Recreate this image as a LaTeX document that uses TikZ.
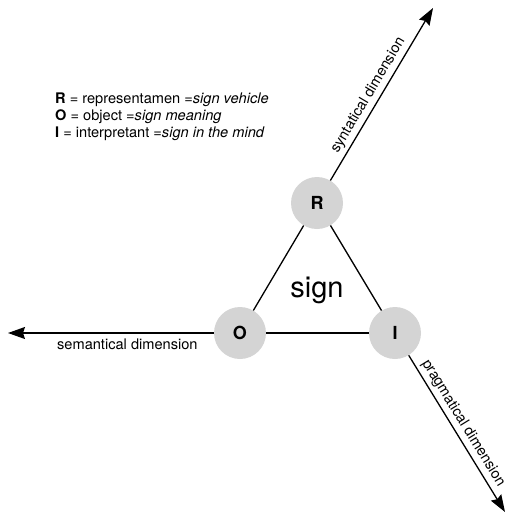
\documentclass[tikz,border=0pt]{standalone}
\usepackage{fontspec}
\setmainfont{TeX Gyre Heros}
\usetikzlibrary{arrows.meta}
\begin{document}
\begin{tikzpicture}[x=1pt,y=-1pt,
  corner/.style={circle,fill=black!17,minimum size=52pt,inner sep=0pt,
    font=\fontsize{18}{21}\selectfont\bfseries},
  edge/.style={line width=1.3pt},
  dimarrow/.style={line width=1.3pt,-{Stealth[length=17pt,width=12pt,inset=2pt]}},
  dimlabel/.style={font=\fontsize{14.6}{17}\selectfont,sloped}
]
\useasboundingbox (0,0) rectangle (509,531);

% the three corners of the sign
\node[corner] (R) at (317,203) {R};
\node[corner] (O) at (240,333) {O};
\node[corner] (I) at (395,333) {I};

% free ends of the three dimensions
\coordinate (syn) at (433,8);
\coordinate (sem) at (8,333);
\coordinate (prag) at (505,512);

% triangle
\draw[edge] (R) -- (O);
\draw[edge] (O) -- (I);
\draw[edge] (I) -- (R);

\node[font=\fontsize{29}{34}\selectfont] (sign) at (317,290) {sign};

% dimensions
\draw[dimarrow] (R) -- node[dimlabel,above,pos=0.46] {syntatical dimension} (syn);
\draw[dimarrow] (O) -- node[dimlabel,below=2pt,pos=0.42] {semantical dimension} (sem);
\draw[dimarrow] (I) -- node[dimlabel,above,pos=0.47] {pragmatical dimension} (prag);

% legend
\node[anchor=north west,align=left,inner sep=0pt,
  font=\fontsize{14.6}{17}\selectfont] (legend) at (55,93)
  {\textbf{R} = representamen =\textit{sign vehicle}\\
   \textbf{O} = object =\textit{sign meaning}\\
   \textbf{I} = interpretant =\textit{sign in the mind}};
\end{tikzpicture}
\end{document}
